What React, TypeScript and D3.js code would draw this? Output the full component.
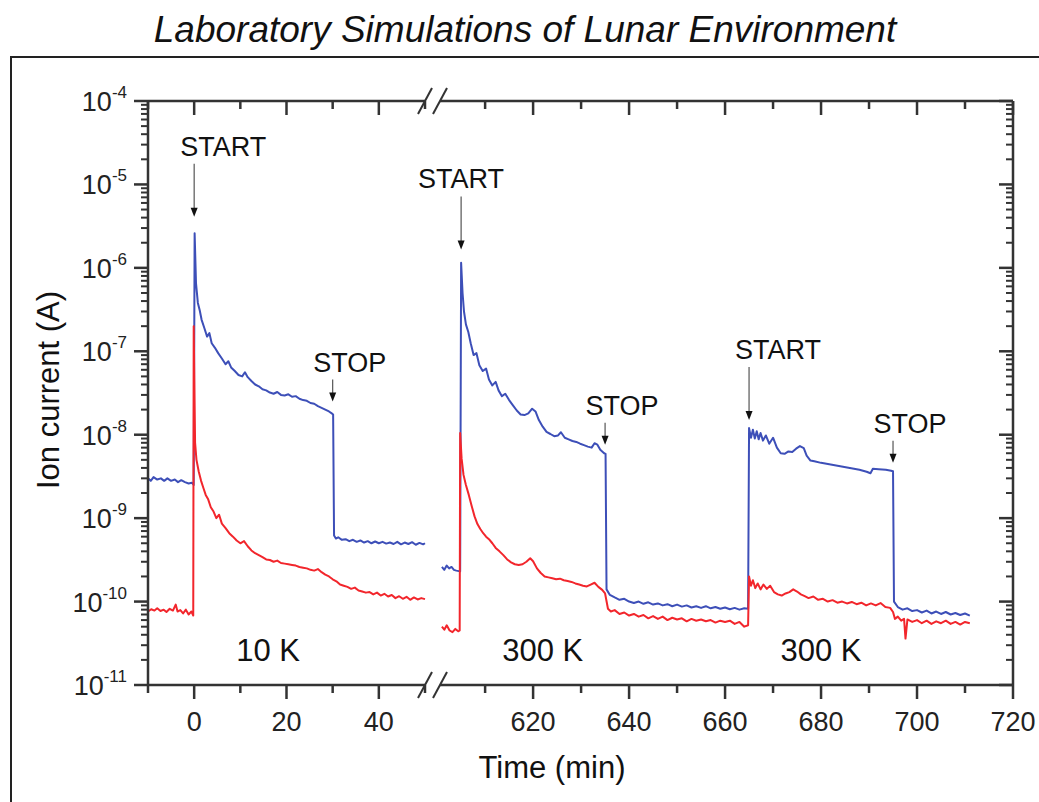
import { useRef, useEffect } from 'react';
import * as d3 from 'd3';

const W = 1039;
const H = 802;
const FONT = '"Liberation Sans", Arial, Helvetica, sans-serif';
const BLUE = '#3d4fb8';
const RED = '#f2262c';
const AXIS = '#333';

// time (min), ion current (A)
const blue10K: [number, number][] = [
  [-10, 3.0e-9], [-9.4, 2.8e-9], [-8.8, 3.1e-9], [-8, 2.9e-9], [-7.2, 3.0e-9], [-6.5, 2.8e-9],
  [-5.8, 3.0e-9], [-5, 2.8e-9], [-4.2, 2.9e-9], [-3.5, 2.7e-9], [-2.8, 2.85e-9], [-2, 2.7e-9],
  [-1.2, 2.6e-9], [-0.5, 2.65e-9], [-0.1, 2.5e-9], [0.1, 2.6e-6], [0.4, 6.5e-7], [0.8, 3.8e-7],
  [1.2, 3.1e-7], [1.6, 2.4e-7], [2.2, 1.9e-7], [2.8, 1.5e-7], [3.3, 1.65e-7], [3.8, 1.25e-7],
  [4.5, 1.1e-7], [5.2, 9.5e-8], [6, 8.2e-8], [6.8, 7.0e-8], [7.4, 7.6e-8], [8, 6.4e-8],
  [8.8, 5.8e-8], [9.6, 5.2e-8], [10.4, 5.0e-8], [11, 5.6e-8], [11.6, 4.9e-8], [12.4, 4.4e-8],
  [13.2, 4.0e-8], [14, 3.8e-8], [14.8, 3.5e-8], [15.6, 3.4e-8], [16.4, 3.2e-8], [17.2, 3.1e-8],
  [18, 3.25e-8], [18.8, 3.0e-8], [19.6, 2.95e-8], [20.4, 3.05e-8], [21.2, 2.85e-8], [22, 2.9e-8],
  [22.8, 2.7e-8], [23.6, 2.6e-8], [24.4, 2.55e-8], [25.2, 2.4e-8], [26, 2.35e-8], [26.8, 2.2e-8],
  [27.6, 2.1e-8], [28.4, 2.0e-8], [29.2, 1.9e-8], [29.8, 1.8e-8], [30.1, 1.75e-8], [30.3, 6.2e-10],
  [30.7, 5.7e-10], [31.2, 5.9e-10], [32, 5.5e-10], [32.8, 5.6e-10], [33.6, 5.3e-10], [34.4, 5.5e-10],
  [35.2, 5.2e-10], [36, 5.4e-10], [36.8, 5.1e-10], [37.6, 5.3e-10], [38.4, 5.0e-10], [39.2, 5.25e-10],
  [40, 5.0e-10], [40.8, 5.2e-10], [41.6, 4.95e-10], [42.4, 5.1e-10], [43.2, 4.9e-10], [44, 5.2e-10],
  [44.8, 4.85e-10], [45.6, 5.1e-10], [46.4, 4.9e-10], [47.2, 5.15e-10], [48, 4.8e-10], [48.8, 5.05e-10],
  [49.6, 4.85e-10], [50, 5.0e-10],
];

const red10K: [number, number][] = [
  [-10, 7.6e-11], [-9.3, 8.1e-11], [-8.6, 7.8e-11], [-8, 8.3e-11], [-7.3, 7.7e-11], [-6.6, 8.0e-11],
  [-6, 7.5e-11], [-5.3, 8.2e-11], [-4.6, 7.8e-11], [-4, 9.2e-11], [-3.6, 7.6e-11], [-3, 7.9e-11],
  [-2.4, 7.2e-11], [-1.8, 8.0e-11], [-1.2, 7.0e-11], [-0.6, 7.6e-11], [-0.2, 6.8e-11], [-0.1, 2.0e-7],
  [0.2, 8.0e-9], [0.5, 5.0e-9], [1, 3.6e-9], [1.5, 2.8e-9], [2, 2.3e-9], [2.5, 1.9e-9],
  [3, 1.7e-9], [3.6, 1.35e-9], [4.2, 1.2e-9], [4.8, 1.0e-9], [5.4, 1.1e-9], [6, 8.6e-10],
  [6.8, 7.6e-10], [7.6, 6.6e-10], [8.4, 6.0e-10], [9.2, 5.4e-10], [10, 5.0e-10], [10.8, 5.3e-10],
  [11.6, 4.6e-10], [12.4, 4.1e-10], [13.2, 3.8e-10], [14, 3.6e-10], [14.8, 3.4e-10], [15.6, 3.2e-10],
  [16.4, 3.15e-10], [17.2, 3.0e-10], [18, 3.1e-10], [18.8, 2.9e-10], [19.6, 2.85e-10], [20.4, 2.8e-10],
  [21.2, 2.75e-10], [22, 2.7e-10], [22.8, 2.6e-10], [23.6, 2.55e-10], [24.4, 2.5e-10], [25.2, 2.4e-10],
  [26, 2.35e-10], [26.8, 2.45e-10], [27.6, 2.25e-10], [28.4, 2.1e-10], [29.2, 2.0e-10], [30, 1.85e-10],
  [30.8, 1.75e-10], [31.6, 1.6e-10], [32.4, 1.55e-10], [33.2, 1.5e-10], [34, 1.42e-10], [34.8, 1.47e-10],
  [35.6, 1.36e-10], [36.4, 1.32e-10], [37.2, 1.28e-10], [38, 1.3e-10], [38.8, 1.22e-10], [39.6, 1.28e-10],
  [40.4, 1.18e-10], [41.2, 1.24e-10], [42, 1.15e-10], [42.8, 1.2e-10], [43.6, 1.1e-10], [44.4, 1.16e-10],
  [45.2, 1.08e-10], [46, 1.14e-10], [46.8, 1.05e-10], [47.6, 1.12e-10], [48.4, 1.06e-10], [49.2, 1.1e-10],
  [50, 1.07e-10],
];

const blue300K: [number, number][] = [
  [601, 2.6e-10], [601.5, 2.4e-10], [602, 2.7e-10], [602.5, 2.5e-10], [603, 2.6e-10], [603.5, 2.4e-10],
  [604, 2.35e-10], [604.8, 2.3e-10], [605, 1.15e-6], [605.3, 5.0e-7], [605.6, 3.0e-7], [606, 2.1e-7],
  [606.5, 1.7e-7], [607, 1.25e-7], [607.6, 9.0e-8], [608.2, 9.5e-8], [608.8, 6.8e-8], [609.5, 5.8e-8],
  [610.2, 6.2e-8], [610.8, 4.6e-8], [611.5, 3.9e-8], [612.2, 4.3e-8], [612.8, 3.4e-8], [613.5, 2.9e-8],
  [614.2, 3.1e-8], [615, 2.6e-8], [615.8, 2.25e-8], [616.6, 1.95e-8], [617.4, 1.75e-8], [618.2, 1.72e-8],
  [619, 1.8e-8], [619.8, 2.05e-8], [620.5, 1.9e-8], [621.2, 1.5e-8], [622, 1.25e-8], [622.8, 1.08e-8],
  [623.6, 1.02e-8], [624.4, 9.6e-9], [625.2, 9.8e-9], [625.8, 1.07e-8], [626.6, 9.2e-9], [627.4, 8.8e-9],
  [628.2, 8.4e-9], [629, 8.2e-9], [629.8, 7.8e-9], [630.6, 7.5e-9], [631.4, 7.2e-9], [632.2, 7.0e-9],
  [632.8, 7.9e-9], [633.4, 7.6e-9], [634, 6.6e-9], [634.8, 6.0e-9], [635.1, 5.9e-9], [635.3, 1.4e-10],
  [636, 1.2e-10], [637, 1.12e-10], [638, 1.05e-10], [639, 1.08e-10], [640, 1.0e-10], [641, 9.6e-11],
  [642, 1.0e-10], [643, 9.4e-11], [644, 9.8e-11], [645, 9.2e-11], [646, 9.5e-11], [647, 9.0e-11],
  [648, 9.3e-11], [649, 8.8e-11], [650, 9.2e-11], [651, 8.7e-11], [652, 9.0e-11], [653, 8.5e-11],
  [654, 8.8e-11], [655, 8.4e-11], [656, 8.8e-11], [657, 8.3e-11], [658, 8.6e-11], [659, 8.2e-11],
  [660, 8.5e-11], [661, 8.1e-11], [662, 8.4e-11], [663, 8.0e-11], [664, 8.3e-11], [664.8, 8.2e-11],
  [665, 1.2e-8], [665.4, 9.2e-9], [665.8, 1.15e-8], [666.2, 9.0e-9], [666.6, 1.1e-8], [667, 8.8e-9],
  [667.4, 1.05e-8], [667.9, 8.5e-9], [668.5, 9.8e-9], [669.2, 7.8e-9], [670, 9.2e-9], [670.8, 7.0e-9],
  [671.6, 6.0e-9], [672.4, 5.9e-9], [673.2, 6.3e-9], [674, 6.2e-9], [674.8, 6.8e-9], [675.6, 7.3e-9],
  [676.4, 6.9e-9], [677, 5.6e-9], [677.8, 4.9e-9], [678.6, 4.8e-9], [680, 4.6e-9], [682, 4.4e-9],
  [684, 4.2e-9], [686, 4.0e-9], [688, 3.8e-9], [689.5, 3.6e-9], [690.3, 3.45e-9], [690.8, 3.9e-9],
  [692, 3.85e-9], [693.5, 3.8e-9], [694.6, 3.7e-9], [695, 3.65e-9], [695.2, 1.0e-10], [696, 8.6e-11],
  [697, 8.0e-11], [698, 8.3e-11], [699, 7.7e-11], [700, 7.9e-11], [701, 7.4e-11], [702, 7.8e-11],
  [703, 7.2e-11], [704, 7.6e-11], [705, 7.1e-11], [706, 7.5e-11], [707, 7.0e-11], [708, 7.3e-11],
  [709, 6.9e-11], [710, 7.2e-11], [711, 6.8e-11],
];

const red300K: [number, number][] = [
  [601, 5.0e-11], [601.5, 4.6e-11], [602, 5.2e-11], [602.6, 4.5e-11], [603.2, 4.3e-11], [603.8, 4.7e-11],
  [604.4, 4.4e-11], [604.7, 4.5e-11], [604.8, 1.05e-8], [605.1, 5.2e-9], [605.5, 3.3e-9], [606, 2.5e-9],
  [606.6, 1.9e-9], [607.2, 1.4e-9], [607.8, 1.05e-9], [608.4, 8.5e-10], [609, 7.4e-10], [609.6, 6.6e-10],
  [610.2, 6.0e-10], [610.8, 5.6e-10], [611.5, 5.0e-10], [612.2, 4.4e-10], [613, 4.0e-10], [613.8, 3.6e-10],
  [614.6, 3.2e-10], [615.4, 2.95e-10], [616.2, 2.8e-10], [617, 2.75e-10], [617.8, 2.8e-10], [618.6, 3.0e-10],
  [619.4, 3.3e-10], [620, 3.05e-10], [620.8, 2.5e-10], [621.6, 2.2e-10], [622.4, 2.0e-10], [623.2, 1.95e-10],
  [624, 1.9e-10], [624.8, 1.85e-10], [625.6, 1.88e-10], [626.4, 1.8e-10], [627.2, 1.76e-10], [628, 1.72e-10],
  [628.8, 1.65e-10], [629.6, 1.6e-10], [630.4, 1.55e-10], [631.2, 1.52e-10], [632, 1.6e-10], [632.8, 1.68e-10],
  [633.6, 1.5e-10], [634.4, 1.38e-10], [635, 1.25e-10], [635.6, 8.2e-11], [636.2, 7.6e-11], [637, 7.9e-11],
  [638, 7.1e-11], [639, 7.4e-11], [640, 6.8e-11], [641, 7.1e-11], [642, 6.6e-11], [643, 6.9e-11],
  [644, 6.3e-11], [645, 6.7e-11], [646, 6.2e-11], [647, 6.6e-11], [648, 6.0e-11], [649, 6.4e-11],
  [650, 6.1e-11], [651, 6.3e-11], [652, 5.8e-11], [653, 6.2e-11], [654, 5.9e-11], [655, 6.1e-11],
  [656, 5.8e-11], [657, 6.0e-11], [658, 5.6e-11], [659, 5.9e-11], [660, 5.7e-11], [661, 5.9e-11],
  [662, 5.4e-11], [663, 5.7e-11], [664, 5.0e-11], [664.8, 5.2e-11], [665, 2.0e-10], [665.4, 1.55e-10],
  [665.8, 1.8e-10], [666.3, 1.45e-10], [666.8, 1.65e-10], [667.4, 1.4e-10], [668, 1.6e-10], [668.7, 1.42e-10],
  [669.4, 1.55e-10], [670.2, 1.3e-10], [671, 1.22e-10], [671.8, 1.18e-10], [672.6, 1.25e-10], [673.4, 1.3e-10],
  [674.2, 1.4e-10], [675, 1.32e-10], [675.8, 1.22e-10], [676.6, 1.16e-10], [677.4, 1.1e-10], [678.4, 1.15e-10],
  [679.4, 1.05e-10], [680.4, 1.08e-10], [681.4, 1.0e-10], [682.4, 1.04e-10], [683.4, 9.7e-11], [684.4, 1.0e-10],
  [685.4, 9.5e-11], [686.4, 9.9e-11], [687.4, 9.3e-11], [688.4, 9.7e-11], [689.4, 9.0e-11], [690.4, 9.5e-11],
  [691.4, 9.0e-11], [692.4, 9.6e-11], [693.4, 8.6e-11], [694.4, 8.4e-11], [695, 7.5e-11], [695.4, 6.2e-11],
  [696, 6.6e-11], [696.7, 5.9e-11], [697.3, 6.2e-11], [697.6, 3.6e-11], [698, 6.1e-11], [699, 5.7e-11],
  [700, 6.0e-11], [701, 5.5e-11], [702, 5.9e-11], [703, 5.4e-11], [704, 5.8e-11], [705, 5.5e-11],
  [706, 5.9e-11], [707, 5.4e-11], [708, 5.7e-11], [709, 5.3e-11], [710, 5.7e-11], [711, 5.5e-11],
];

const exponents = [-4, -5, -6, -7, -8, -9, -10, -11];
const leftMajor = [0, 20, 40];
const leftMinor = [-10, 10, 30, 50];
const rightMajor = [620, 640, 660, 680, 700, 720];
const rightMinor = [610, 630, 650, 670, 690, 710];

// arrow label, time, current the arrow tip points at
const events = [
  { label: 'START', t: 0, level: 4.1e-6, seg: 'left' },
  { label: 'STOP', t: 30, level: 2.5e-8, seg: 'left' },
  { label: 'START', t: 605, level: 1.66e-6, seg: 'right' },
  { label: 'STOP', t: 635, level: 7.6e-9, seg: 'right' },
  { label: 'START', t: 665, level: 1.5e-8, seg: 'right' },
  { label: 'STOP', t: 695, level: 4.6e-9, seg: 'right' },
];
const temps = [
  { label: '10 K', t: 16, seg: 'left' },
  { label: '300 K', t: 622, seg: 'right' },
  { label: '300 K', t: 680, seg: 'right' },
];

export default function App() {
  const svgRef = useRef<SVGSVGElement>(null);

  useEffect(() => {
    const svg = d3.select(svgRef.current);
    svg.selectAll('*').remove();

    const xL = d3.scaleLinear().domain([-10, 50]).range([148, 425]);
    const xR = d3.scaleLinear().domain([600.6, 720]).range([440, 1013]);
    const y = d3.scaleLog().domain([1e-11, 1e-4]).range([685, 101]);
    const top = 101, bottom = 685, left = 148, right = 1013;
    const xOf = (seg: string) => (seg === 'left' ? xL : xR);

    // frame and title
    svg.append('path').attr('d', `M11,${H} L11,57 L${W},57`)
      .attr('fill', 'none').attr('stroke', '#222').attr('stroke-width', 2);
    svg.append('text').attr('x', 525).attr('y', 42).attr('text-anchor', 'middle')
      .attr('font-family', FONT).attr('font-style', 'italic').attr('font-size', 37)
      .attr('fill', '#111').text('Laboratory Simulations of Lunar Environment');

    // lines
    const line = (xs: d3.ScaleLinear<number, number>) =>
      d3.line<[number, number]>().x(d => xs(d[0])).y(d => y(d[1]));
    const series: [[number, number][], d3.ScaleLinear<number, number>, string][] = [
      [blue10K, xL, BLUE], [blue300K, xR, BLUE], [red10K, xL, RED], [red300K, xR, RED],
    ];
    series.forEach(([data, xs, color]) => {
      svg.append('path').datum(data).attr('d', line(xs))
        .attr('fill', 'none').attr('stroke', color).attr('stroke-width', 2)
        .attr('stroke-linejoin', 'round');
    });

    // axes
    const ax = svg.append('g').attr('stroke', AXIS).attr('stroke-width', 2.5).attr('fill', 'none');
    const breakL = 425, breakR = 440;
    ax.append('line').attr('x1', left).attr('x2', left).attr('y1', top).attr('y2', bottom);
    ax.append('line').attr('x1', right).attr('x2', right).attr('y1', top).attr('y2', bottom);
    [top, bottom].forEach(yy => {
      ax.append('line').attr('x1', left).attr('x2', breakL).attr('y1', yy).attr('y2', yy);
      ax.append('line').attr('x1', breakR).attr('x2', right).attr('y1', yy).attr('y2', yy);
      [418, 433].forEach(bx => {
        ax.append('line').attr('x1', bx).attr('y1', yy + 13).attr('x2', bx + 14).attr('y2', yy - 13)
          .attr('stroke-width', 2);
      });
    });

    // x ticks: bottom outward, top inward
    const xTick = (xv: number, len: number) => {
      ax.append('line').attr('x1', xv).attr('x2', xv).attr('y1', bottom).attr('y2', bottom + len);
      ax.append('line').attr('x1', xv).attr('x2', xv).attr('y1', top).attr('y2', top + len);
    };
    leftMajor.forEach(t => xTick(xL(t), 14));
    leftMinor.forEach(t => xTick(xL(t), 8));
    rightMajor.forEach(t => xTick(xR(t), 14));
    rightMinor.forEach(t => xTick(xR(t), 8));

    const tickText = svg.append('g').attr('font-family', FONT).attr('font-size', 27).attr('fill', '#222');
    leftMajor.forEach(t => tickText.append('text').attr('x', xL(t)).attr('y', 731)
      .attr('text-anchor', 'middle').text(t));
    rightMajor.forEach(t => tickText.append('text').attr('x', xR(t)).attr('y', 731)
      .attr('text-anchor', 'middle').text(t));

    // y ticks: left outward, right inward
    exponents.forEach(e => {
      const yy = y(Math.pow(10, e));
      ax.append('line').attr('x1', left - 14).attr('x2', left).attr('y1', yy).attr('y2', yy);
      ax.append('line').attr('x1', right - 14).attr('x2', right).attr('y1', yy).attr('y2', yy);
      if (e > -11) {
        d3.range(2, 10).forEach(k => {
          const ym = y(k * Math.pow(10, e - 1));
          ax.append('line').attr('x1', left - 7).attr('x2', left).attr('y1', ym).attr('y2', ym)
            .attr('stroke-width', 2);
          ax.append('line').attr('x1', right - 7).attr('x2', right).attr('y1', ym).attr('y2', ym)
            .attr('stroke-width', 2);
        });
      }
      const t = tickText.append('text').attr('x', 127).attr('y', yy + 10).attr('text-anchor', 'end');
      t.append('tspan').text('10');
      t.append('tspan').attr('dy', -13).attr('font-size', 17).text(String(e));
    });

    // axis titles
    svg.append('text').attr('x', 552).attr('y', 778).attr('text-anchor', 'middle')
      .attr('font-family', FONT).attr('font-size', 31).attr('fill', '#111').text('Time (min)');
    svg.append('text').attr('transform', 'translate(59,390) rotate(-90)').attr('text-anchor', 'middle')
      .attr('font-family', FONT).attr('font-size', 31).attr('fill', '#111').text('Ion current (A)');

    // start/stop arrows
    const ann = svg.append('g').attr('font-family', FONT).attr('font-size', 27).attr('fill', '#111');
    events.forEach((ev, i) => {
      const xv = xOf(ev.seg)(ev.t);
      const tip = y(ev.level);
      const len = ev.label === 'START' ? 53 : 22;
      const textDx = ev.label === 'START' ? (i === 2 ? 0 : 29) : 17;
      ann.append('line').attr('x1', xv).attr('x2', xv).attr('y1', tip - len).attr('y2', tip - 7)
        .attr('stroke', '#555').attr('stroke-width', 1.2);
      ann.append('path').attr('d', `M${xv - 3.5},${tip - 9} L${xv + 3.5},${tip - 9} L${xv},${tip} Z`)
        .attr('fill', '#111');
      ann.append('text').attr('x', xv + textDx).attr('y', tip - len - 8)
        .attr('text-anchor', 'middle').text(ev.label);
    });

    // temperature labels
    temps.forEach(tp => {
      ann.append('text').attr('x', xOf(tp.seg)(tp.t)).attr('y', 661).attr('font-size', 31)
        .attr('text-anchor', 'middle').text(tp.label);
    });
  }, []);

  return (
    <svg ref={svgRef} width={W} height={H}
      style={{ position: 'absolute', left: 0, top: 0, background: '#fff' }} />
  );
}
